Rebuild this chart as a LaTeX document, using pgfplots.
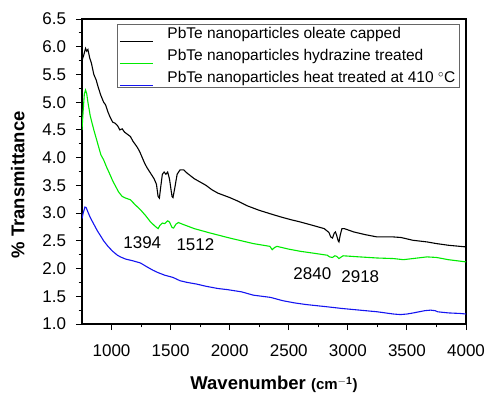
\documentclass[border=0pt]{standalone}
\usepackage{pgfplots}
\pgfplotsset{compat=1.18}
\usepackage{fontspec}
\setmainfont{Liberation Sans}
\definecolor{mygreen}{RGB}{0,235,0}
\definecolor{myblue}{RGB}{20,20,240}
\begin{document}
\begin{tikzpicture}[x=1pt,y=1pt]
\path[use as bounding box] (0,0) rectangle (486,395);
\begin{axis}[
  at={(82pt,71pt)}, anchor=south west,
  scale only axis, width=384pt, height=305pt,
  xmin=750, xmax=4000, ymin=1.0, ymax=6.5,
  xtick={1000,1500,...,4000}, ytick={1.0,1.5,...,6.5},
  minor x tick num=1, minor y tick num=1,
  tick pos=left, tick align=outside,
  major tick length=6pt, minor tick length=3.5pt,
  every tick/.style={black, line width=0.9pt},
  axis line style={line width=1.1pt},
  /pgf/number format/assume math mode=true,
  tick label style={font=\fontsize{17}{19}\selectfont},
  yticklabel style={/pgf/number format/fixed, /pgf/number format/fixed zerofill, /pgf/number format/precision=1, /tikz/xshift=-6.5pt},
  xticklabel style={/pgf/number format/set thousands separator={}, /tikz/yshift=-11pt},
  xlabel={\textbf{Wavenumber} {\bfseries\fontsize{15}{17}\selectfont(cm$^{\mathbf{-1}}$)}},
  ylabel={\textbf{\% Transmittance}},
  label style={font=\fontsize{18.5}{20}\selectfont},
  xlabel style={at={(axis description cs:0.5,-0.216)}, anchor=base},
  ylabel style={at={(axis description cs:-0.167,0.456)}, anchor=center},
  legend style={at={(0.091,0.983)}, anchor=north west, draw=black!60, fill=white, text=black, line width=0.6pt,
    font=\fontsize{15.5}{17}\selectfont, inner sep=1pt, row sep=5pt, inner xsep=2pt},
  legend cell align=left,
]
\addplot[black, line width=1.1pt, legend image code/.code={\draw[black, line width=1.2pt] (15pt,-8pt) -- (48pt,-8pt);}] coordinates {
(750,5.75)(765,5.85)(780,5.97)(790,5.92)(800,5.95)(815,5.80)(830,5.70)(850,5.50)(870,5.40)(890,5.25)(910,5.12)(933,5.00)(950,4.95)(970,4.82)(990,4.72)(1010,4.64)(1030,4.62)(1050,4.58)(1070,4.50)(1090,4.52)(1110,4.46)(1135,4.42)(1160,4.38)(1180,4.30)(1200,4.24)(1220,4.18)(1240,4.10)(1260,4.00)(1280,3.90)(1300,3.82)(1330,3.72)(1360,3.62)(1380,3.52)(1394,3.30)(1405,3.27)(1415,3.45)(1430,3.70)(1445,3.74)(1460,3.70)(1475,3.74)(1490,3.62)(1505,3.40)(1512,3.30)(1520,3.28)(1535,3.45)(1555,3.70)(1580,3.78)(1610,3.78)(1640,3.72)(1700,3.62)(1750,3.56)(1800,3.50)(1850,3.42)(1900,3.36)(1950,3.32)(2000,3.28)(2065,3.22)(2150,3.13)(2250,3.05)(2370,2.97)(2450,2.92)(2520,2.88)(2597,2.84)(2700,2.78)(2800,2.72)(2840,2.65)(2855,2.57)(2870,2.55)(2885,2.64)(2895,2.66)(2905,2.60)(2918,2.50)(2925,2.48)(2935,2.60)(2950,2.72)(2970,2.72)(3050,2.66)(3150,2.61)(3247,2.57)(3300,2.57)(3385,2.57)(3450,2.56)(3550,2.51)(3670,2.48)(3750,2.45)(3850,2.42)(4000,2.39)
};
\addlegendentry{\hspace*{12pt}PbTe nanoparticles oleate capped}
\addplot[mygreen, line width=1.1pt, legend image code/.code={\draw[mygreen, line width=1.2pt] (15pt,-8pt) -- (48pt,-8pt);}] coordinates {
(750,4.50)(760,4.85)(770,5.15)(780,5.22)(790,5.15)(800,5.00)(820,4.75)(850,4.50)(870,4.35)(890,4.20)(910,4.05)(933,3.96)(960,3.82)(990,3.68)(1010,3.58)(1030,3.50)(1060,3.38)(1090,3.30)(1120,3.27)(1160,3.24)(1200,3.15)(1245,3.06)(1290,2.95)(1330,2.84)(1370,2.76)(1394,2.72)(1410,2.78)(1430,2.82)(1450,2.81)(1475,2.86)(1490,2.84)(1512,2.74)(1525,2.73)(1545,2.80)(1566,2.83)(1600,2.80)(1700,2.72)(1836,2.64)(2000,2.55)(2100,2.50)(2200,2.45)(2340,2.40)(2360,2.34)(2380,2.38)(2400,2.40)(2500,2.35)(2600,2.31)(2700,2.28)(2826,2.24)(2845,2.21)(2870,2.20)(2890,2.23)(2905,2.22)(2925,2.18)(2945,2.21)(2960,2.23)(3100,2.21)(3250,2.19)(3385,2.18)(3470,2.16)(3550,2.18)(3670,2.21)(3750,2.20)(3850,2.16)(4000,2.12)
};
\addlegendentry{\hspace*{12pt}PbTe nanoparticles hydrazine treated}
\addplot[myblue, line width=1.1pt, legend image code/.code={\draw[myblue, line width=1.2pt] (15pt,-8pt) -- (48pt,-8pt);}] coordinates {
(750,2.90)(760,3.00)(775,3.11)(785,3.10)(800,3.02)(820,2.92)(850,2.80)(880,2.68)(910,2.58)(933,2.50)(970,2.40)(1010,2.31)(1050,2.24)(1075,2.21)(1120,2.17)(1180,2.14)(1245,2.10)(1300,2.03)(1350,1.97)(1390,1.93)(1450,1.88)(1520,1.84)(1580,1.78)(1640,1.75)(1720,1.72)(1800,1.68)(1900,1.64)(1980,1.62)(2100,1.58)(2200,1.52)(2345,1.48)(2450,1.42)(2550,1.38)(2650,1.35)(2826,1.31)(2950,1.28)(3100,1.25)(3250,1.22)(3385,1.18)(3444,1.17)(3500,1.18)(3555,1.20)(3650,1.24)(3700,1.25)(3740,1.24)(3760,1.22)(3850,1.20)(3950,1.19)(4000,1.18)
};
\addlegendentry{\hspace*{12pt}PbTe nanoparticles heat treated at 410 $^{\circ}$C}
\node[font=\fontsize{17}{19}\selectfont] at (axis cs:1260,2.46) {1394};
\node[font=\fontsize{17}{19}\selectfont] at (axis cs:1710,2.43) {1512};
\node[font=\fontsize{17}{19}\selectfont] at (axis cs:2700,1.90) {2840};
\node[font=\fontsize{17}{19}\selectfont] at (axis cs:3105,1.85) {2918};
\end{axis}
\end{tikzpicture}
\end{document}
